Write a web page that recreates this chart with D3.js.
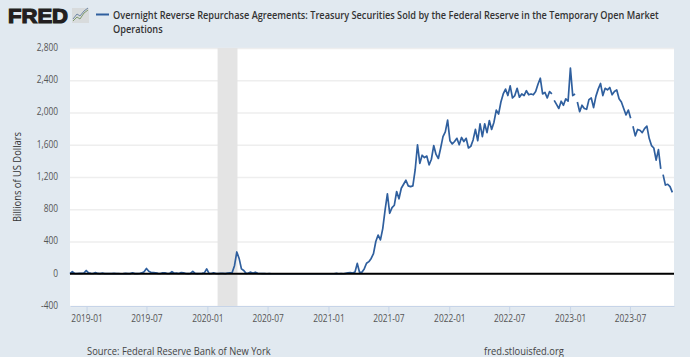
<!DOCTYPE html>
<html>
<head>
<meta charset="utf-8">
<script src="https://d3js.org/d3.v7.min.js"></script>
<style>
html, body { margin: 0; padding: 0; background: #e1e9f0; }
svg { display: block; }
text { font-family: "Open Sans", sans-serif; }
</style>
</head>
<body>
<div id="plot"></div>
<script>
var w = 690;
var h = 357;
var margin = { top: 48, right: 16, bottom: 51, left: 70 };

var titleLines = [
    "Overnight Reverse Repurchase Agreements: Treasury Securities Sold by the Federal Reserve in the Temporary Open Market",
    "Operations"
];
var yTicks = [-400, 0, 400, 800, 1200, 1600, 2000, 2400, 2800];
var xTickLabels = ["2019-01", "2019-07", "2020-01", "2020-07", "2021-01", "2021-07", "2022-01", "2022-07", "2023-01", "2023-07"];
var xDomain = ["2018-11-12", "2023-11-11"];
var recession = ["2020-02-01", "2020-04-01"];

// one reading per week, starting at firstWeek, billions of dollars
var firstWeek = "2018-11-12";
var values = [
    0, 25, 5, 3, 4, 5, 8, 40, 10, 4,
    3, 15, 4, 2, 8, 2, 1, 2, 1, 5,
    1, 1, 0, 1, 5, 1, 2, 12, 2, 1,
    3, 10, 25, 65, 30, 15, 15, 12, 4, 3,
    10, 10, 3, 4, 25, 6, 8, 3, 15, 12,
    3, 2, 4, 30, 5, 2, 3, 4, 10, 60,
    4, 3, 10, 3, 2, 4, 5, 2, 8, 12,
    15, 100, 270, 190, 60, 40, 5, 8, 20, 5,
    20, 5, 3, 2, 1, 0, 1, 0, 0, 0,
    0, 0, 0, 0, 0, 0, 0, 0, 0, 0,
    0, 0, 0, 0, 0, 0, 0, 0, 0, 0,
    0, 0, 0, 0, 0, 5, 0, 2, 0, 5,
    10, 15, 8, 20, 128, 15, 20, 60, 130, 150,
    190, 250, 400, 480, 420, 560, 790, 990, 750, 820,
    850, 1020, 930, 1060, 1110, 1160, 1090, 1080, 1090, 1290,
    1600, 1370, 1470, 1440, 1460, 1350, 1420, 1590, 1480, 1430,
    1560, 1700, 1760, 1905, 1650, 1610, 1640, 1680, 1600, 1690,
    1640, 1680, 1560, 1580, 1660, 1790, 1650, 1860, 1700, 1860,
    1750, 1900, 1790, 1880, 2030, 1980, 2130, 2230, 2290, 2210,
    2330, 2180, 2210, 2300, 2190, 2230, 2210, 2270, 2220, 2230,
    2220, 2260, 2350, 2425, 2230, 2250, 2180, 2260, 2230, 2150,
    2100, 2050, 2140, 2090, 2170, 2140, 2550, 2210, 2230, 2130,
    2010, 2090, 2050, 2040, 2160, 2180, 2060, 2200, 2290, 2360,
    2210, 2300, 2280, 2310, 2220, 2260, 2280, 2170, 2130, 2050,
    1970, 2030, 1930, 1830, 1710, 1790, 1780, 1750, 1800, 1830,
    1680, 1590, 1560, 1410, 1540, 1300, 1230, 1100, 1110, 1080,
    1010
];
// the drawn line has small breaks before these weeks
var lineBreaks = [209, 219, 243, 256];

// the reference's type is narrower than any installed face, so squeeze it
function squeeze(sel, factor) {
    sel.each(function() {
        d3.select(this)
          .attr("textLength", this.getComputedTextLength() * factor)
          .attr("lengthAdjust", "spacingAndGlyphs");
    });
}

var parseDay = d3.utcParse("%Y-%m-%d");
var parseMonth = d3.utcParse("%Y-%m");
var weeks = d3.utcMonday.range(parseDay(firstWeek), d3.utcMonday.offset(parseDay(firstWeek), values.length));
var dataset = values.map(function(v, i) { return [weeks[i], v]; });

var xScale = d3.scaleUtc()
               .domain(xDomain.map(parseDay))
               .range([margin.left, w - margin.right]);

var yScale = d3.scaleLinear()
               .domain([-400, 2800])
               .range([h - margin.bottom, margin.top]);

var svg = d3.select("#plot")
            .append("svg")
            .attr("width", w)
            .attr("height", h);

// logo
svg.append("text")
   .attr("x", 8)
   .attr("y", 23)
   .attr("textLength", 60)
   .attr("lengthAdjust", "spacingAndGlyphs")
   .attr("font-size", "20px")
   .attr("font-weight", 700)
   .attr("stroke", "#231f20")
   .attr("stroke-width", 1.2)
   .attr("fill", "#231f20")
   .style("font-family", "'Liberation Sans', sans-serif")
   .text("FRED");

svg.append("rect")
   .attr("x", 72).attr("y", 8)
   .attr("width", 17).attr("height", 15)
   .attr("fill", "#d8dbdc");
svg.append("path")
   .attr("d", "M73 21L77 17L80 19L84 13L88 10")
   .attr("fill", "none").attr("stroke", "#7f9a6e").attr("stroke-width", 1);
svg.append("path")
   .attr("d", "M73 19L77 14L80 16L84 11L88 8")
   .attr("fill", "none").attr("stroke", "#6f87a5").attr("stroke-width", 1);

// legend and title
svg.append("line")
   .attr("x1", 96).attr("x2", 109)
   .attr("y1", 14.5).attr("y2", 14.5)
   .attr("stroke", "#2f5f9e")
   .attr("stroke-width", 2);

svg.selectAll("text.title")
   .data(titleLines)
   .enter()
   .append("text")
   .attr("class", "title")
   .attr("transform", function(d, i) { return "translate(113," + (19 + i * 14) + ") scale(0.835,1)"; })
   .attr("font-size", "11px")
   .attr("font-weight", 600)
   .attr("fill", "#333")
   .text(function(d) { return d; });

// plot area
svg.append("rect")
   .attr("x", margin.left)
   .attr("y", margin.top)
   .attr("width", w - margin.left - margin.right)
   .attr("height", h - margin.top - margin.bottom)
   .attr("fill", "#fff");

var xAxis = d3.axisBottom(xScale)
              .tickValues(xTickLabels.map(parseMonth))
              .tickFormat(d3.utcFormat("%Y-%m"))
              .tickSize(7)
              .tickSizeOuter(0);

var yAxis = d3.axisLeft(yScale)
              .tickValues(yTicks)
              .tickFormat(function(d) { return d3.format(",")(d).replace("\u2212", "-"); })
              .tickSize(-(w - margin.left - margin.right));

var yG = svg.append("g")
            .attr("transform", "translate(" + margin.left + ",0)")
            .call(yAxis);
yG.select(".domain").remove();
yG.selectAll(".tick line")
  .attr("stroke", "#eeeeee")
  .attr("stroke-width", 1.5);
yG.selectAll(".tick text")
  .attr("x", -12)
  .attr("dy", "0.22em")
  .attr("font-family", "'Open Sans', sans-serif")
  .attr("font-size", "11px")
  .attr("fill", "#555")
  .call(squeeze, 0.76);

// recession band
svg.append("rect")
   .attr("x", xScale(parseDay(recession[0])))
   .attr("y", margin.top)
   .attr("width", xScale(parseDay(recession[1])) - xScale(parseDay(recession[0])))
   .attr("height", h - margin.top - margin.bottom)
   .attr("fill", "#e4e4e4");

// series
var line = d3.line()
             .x(function(d) { return xScale(d[0]); })
             .y(function(d) { return yScale(d[1]); });

var cuts = [0].concat(lineBreaks, [dataset.length]);
var segments = d3.pairs(cuts).map(function(p) { return dataset.slice(p[0], p[1]); });

svg.selectAll("path.series")
   .data(segments)
   .enter()
   .append("path")
   .attr("class", "series")
   .attr("d", line)
   .attr("fill", "none")
   .attr("stroke", "#2f5f9e")
   .attr("stroke-width", 1.7)
   .attr("stroke-linejoin", "round");

// zero line
svg.append("line")
   .attr("x1", margin.left)
   .attr("x2", w - margin.right)
   .attr("y1", yScale(0))
   .attr("y2", yScale(0))
   .attr("stroke", "#000")
   .attr("stroke-width", 2);

var xG = svg.append("g")
            .attr("transform", "translate(0," + (h - margin.bottom) + ")")
            .call(xAxis);
xG.select(".domain")
  .attr("stroke", "#c6d4e8");
xG.selectAll(".tick line")
  .attr("stroke", "#c6d4e8");
xG.selectAll(".tick text")
  .attr("y", 8)
  .attr("font-family", "'Open Sans', sans-serif")
  .attr("font-size", "11px")
  .attr("fill", "#555")
  .call(squeeze, 0.76);

svg.append("text")
   .attr("transform", "translate(21,177) rotate(-90)")
   .attr("text-anchor", "middle")
   .attr("font-size", "11px")
   .attr("fill", "#333")
   .text("Billions of US Dollars")
   .call(squeeze, 0.85);

svg.append("text")
   .attr("x", 87)
   .attr("y", 355)
   .attr("font-size", "11px")
   .attr("fill", "#444")
   .text("Source: Federal Reserve Bank of New York")
   .call(squeeze, 0.85);

svg.append("text")
   .attr("x", 484)
   .attr("y", 355)
   .attr("font-size", "11px")
   .attr("fill", "#444")
   .text("fred.stlouisfed.org")
   .call(squeeze, 0.85);
</script>
</body>
</html>
